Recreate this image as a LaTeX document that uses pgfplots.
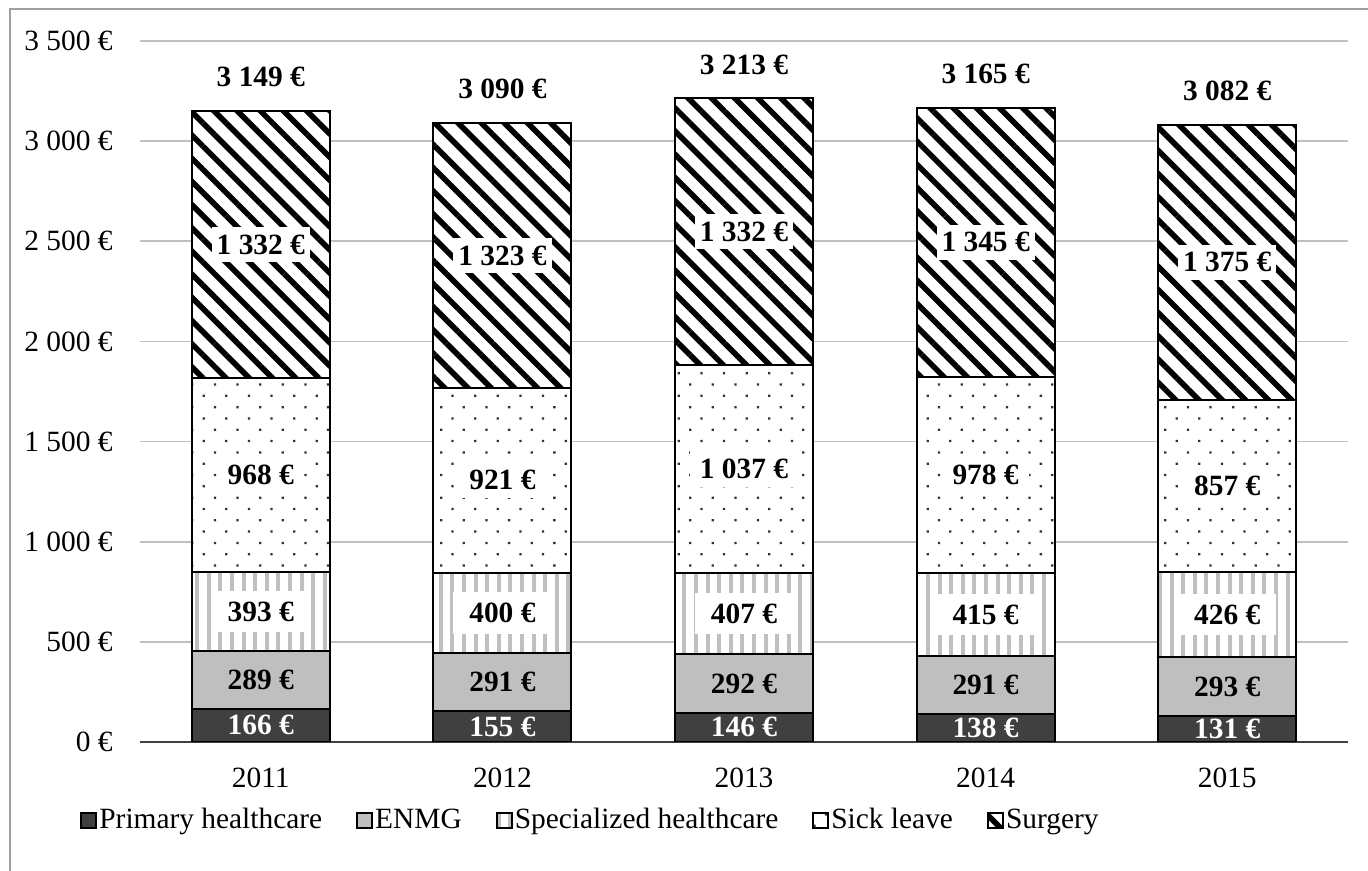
\documentclass[border=0pt]{standalone}
\usepackage{fontspec}
\setmainfont{Liberation Serif}
\usepackage{pgfplots}
\pgfplotsset{compat=1.18}
\usepackage{pgfplotstable}
\usetikzlibrary{patterns.meta}

\definecolor{darkgr}{HTML}{404040}
\definecolor{lightgr}{HTML}{BFBFBF}
\definecolor{gridgr}{HTML}{C0C0C0}
\definecolor{framegr}{HTML}{A0A0A0}

% costs per patient, euros
\pgfplotstableread{
x year prim enmg spec sick surg total
0 2011 166 289 393 968 1332 3149
1 2012 155 291 400 921 1323 3090
2 2013 146 292 407 1037 1332 3213
3 2014 138 291 415 978 1345 3165
4 2015 131 293 426 857 1375 3082
}\costs

\pgfplotsset{
  frame/.style={
    at={(70pt,64.5pt)}, anchor=south west,
    scale only axis, width=604pt, height=350.5pt,
    xmin=-0.5, xmax=4.5, ymin=0, ymax=3500,
  },
  lbl/.style={
    draw=none, mark=none, point meta=explicit,
    nodes near coords={\pgfmathprintnumber{\pgfplotspointmeta}~€},
    every node near coord/.append style={anchor=center,
      font=\fontsize{14.7}{17.6}\selectfont\bfseries},
  },
}

\begin{document}
\begin{tikzpicture}[font=\fontsize{14.7}{17.6}\selectfont]
\begin{axis}[
  frame,
  ybar stacked, bar width=69pt,
  xtick={0,1,2,3,4}, xticklabels={2011,2012,2013,2014,2015},
  ytick={0,500,...,3500},
  yticklabels={0 €,500 €,1 000 €,1 500 €,2 000 €,2 500 €,3 000 €,3 500 €},
  axis x line*=bottom, axis y line*=left,
  x axis line style={black!75, line width=1pt},
  y axis line style={draw=none},
  major tick length=0pt,
  ymajorgrids, grid style={gridgr, line width=0.8pt},
  yticklabel style={inner sep=0pt, xshift=-13.5pt},
  xticklabel style={inner sep=0pt, yshift=-13pt},
  legend columns=5,
  legend style={at={(-0.0497,-0.1113)}, anchor=west, draw=none, fill=none,
    inner sep=0pt, nodes={inner sep=1pt},
    /tikz/every even column/.append style={column sep=16pt}},
  legend image code/.code={\draw[#1] (0pt,-3.75pt) rectangle (7.5pt,3.75pt);},
]
\addplot[draw=black, line width=1pt, fill=darkgr]
  table[x=x, y=prim] {\costs};
\addlegendentry{Primary healthcare}
\addplot[draw=black, line width=1pt, fill=lightgr]
  table[x=x, y=enmg] {\costs};
\addlegendentry{ENMG}
\addplot[draw=black, line width=1pt, fill=white,
  postaction={pattern={Lines[angle=90, distance=5.8pt, line width=2pt]}, pattern color=lightgr}]
  table[x=x, y=spec] {\costs};
\addlegendentry{Specialized healthcare}
\addplot[draw=black, line width=1pt, fill=white,
  postaction={pattern={Dots[angle=45, distance=8pt, radius=0.8pt]}, pattern color=black!80}]
  table[x=x, y=sick] {\costs};
\addlegendentry{Sick leave}
\addplot[draw=black, line width=1pt, fill=white,
  postaction={pattern={Lines[angle=-45, distance=8.2pt, line width=2.8pt]}, pattern color=black}]
  table[x=x, y=surg] {\costs};
\addlegendentry{Surgery}
\end{axis}

% value labels, centred in each segment
\begin{axis}[frame, hide axis, clip=false,
  /pgf/number format/.cd, 1000 sep={\ }, fixed, precision=0, assume math mode=true]
\addplot[lbl, nodes near coords style={text=white}]
  table[x=x, y expr={\thisrow{prim}/2}, meta=prim] {\costs};
\addplot[lbl]
  table[x=x, y expr={\thisrow{prim}+\thisrow{enmg}/2}, meta=enmg] {\costs};
\addplot[lbl, nodes near coords style={fill=white, inner xsep=8pt, inner ysep=5.5pt}]
  table[x=x, y expr={\thisrow{prim}+\thisrow{enmg}+\thisrow{spec}/2}, meta=spec] {\costs};
\addplot[lbl, nodes near coords style={fill=white, inner xsep=5pt, inner ysep=4pt}]
  table[x=x, y expr={\thisrow{prim}+\thisrow{enmg}+\thisrow{spec}+\thisrow{sick}/2}, meta=sick] {\costs};
\addplot[lbl, nodes near coords style={fill=white, inner xsep=2.5pt, inner ysep=3.8pt}]
  table[x=x, y expr={\thisrow{prim}+\thisrow{enmg}+\thisrow{spec}+\thisrow{sick}+\thisrow{surg}/2}, meta=surg] {\costs};
% totals above the stacks
\addplot[lbl, nodes near coords style={yshift=17pt}]
  table[x=x, y=total, meta=total] {\costs};
\end{axis}

\draw[framegr, line width=1pt] (5pt,-20pt) rectangle (720pt,431pt);
\pgfresetboundingbox
\useasboundingbox (0,0) rectangle (684pt,435.5pt);
\end{tikzpicture}
\end{document}
